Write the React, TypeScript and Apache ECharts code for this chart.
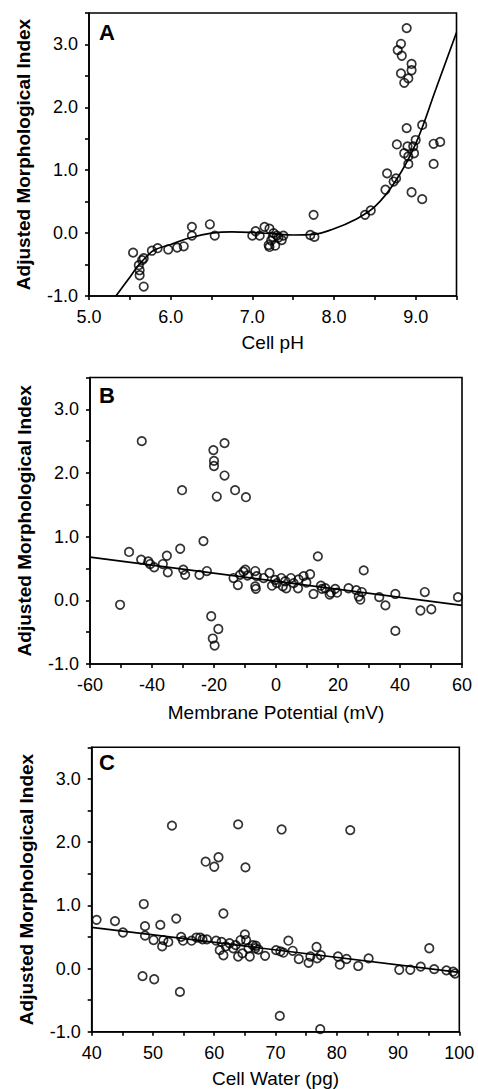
import React, { useEffect, useRef } from "react";
import * as echarts from "echarts";

// Panel A: Cell pH vs Adjusted Morphological Index
const phPoints: number[][] = [
  [5.54, -0.31], [5.61, -0.51], [5.62, -0.59], [5.62, -0.67], [5.65, -0.43], [5.67, -0.4],
  [5.67, -0.85], [5.77, -0.28], [5.84, -0.24], [5.97, -0.26], [6.08, -0.23], [6.16, -0.21],
  [6.26, 0.1], [6.26, -0.04], [6.48, 0.14], [6.54, -0.04],
  [7.0, -0.04], [7.04, 0.03], [7.09, -0.04], [7.15, 0.1], [7.21, 0.07], [7.2, -0.19],
  [7.21, -0.22], [7.23, -0.12], [7.26, 0.0], [7.28, -0.2], [7.3, -0.04], [7.32, -0.07],
  [7.36, -0.11], [7.38, -0.04], [7.25, -0.06],
  [7.71, -0.03], [7.75, 0.29], [7.76, -0.06], [8.38, 0.29], [8.45, 0.36],
  [8.63, 0.69], [8.65, 0.95], [8.73, 0.82], [8.76, 0.87], [8.77, 1.41],
  [8.78, 2.91], [8.82, 3.01], [8.83, 2.82], [8.82, 2.54], [8.86, 2.39], [8.89, 3.26],
  [8.91, 2.46], [8.95, 2.69], [8.95, 2.59], [8.89, 1.67], [8.86, 1.27], [8.9, 1.38],
  [8.91, 1.1], [8.91, 1.22], [8.98, 1.27], [8.97, 1.38], [9.0, 1.48], [8.95, 0.65],
  [9.08, 0.54], [9.08, 1.72], [9.22, 1.42], [9.3, 1.45], [9.22, 1.1],
];
const phCurve: number[][] = [
  [5.33, -1.0], [5.5, -0.7], [5.6, -0.52], [5.7, -0.38], [5.8, -0.27], [6.0, -0.18],
  [6.25, -0.07], [6.5, 0.0], [6.75, 0.02], [7.0, 0.01], [7.25, -0.01], [7.5, -0.03],
  [7.75, -0.02], [8.0, 0.07], [8.25, 0.21], [8.5, 0.42], [8.75, 0.82], [9.0, 1.42],
  [9.25, 2.3], [9.5, 3.19],
];

// Panel B: Membrane Potential (mV)
const mvPoints: number[][] = [
  [-50.3, -0.07], [-47.4, 0.76], [-43.3, 2.5], [-43.5, 0.64], [-41.2, 0.61], [-40.6, 0.57],
  [-39.3, 0.52], [-36.5, 0.57], [-35.2, 0.7], [-34.9, 0.44], [-30.9, 0.81], [-30.3, 1.73],
  [-29.9, 0.48], [-29.3, 0.4], [-24.7, 0.4], [-23.4, 0.93], [-22.3, 0.46], [-20.9, -0.25],
  [-20.2, 2.36], [-20.0, 2.19], [-20.0, 2.11], [-20.4, -0.6], [-19.8, -0.71], [-19.1, 1.63],
  [-18.6, -0.45], [-16.6, 2.47], [-16.6, 1.96], [-13.2, 1.73], [-13.7, 0.35], [-12.3, 0.24],
  [-11.6, 0.4], [-10.5, 0.45], [-9.7, 1.62], [-9.9, 0.48], [-9.2, 0.39], [-6.7, 0.46],
  [-6.7, 0.22], [-6.5, 0.18], [-6.2, 0.38], [-4.0, 0.35], [-2.1, 0.43], [-1.3, 0.23],
  [-0.3, 0.32], [0.3, 0.27], [1.7, 0.35], [2.2, 0.22], [3.0, 0.3], [3.3, 0.19], [4.8, 0.35],
  [5.7, 0.27], [7.1, 0.19], [7.3, 0.33], [8.9, 0.38], [9.8, 0.28], [11.0, 0.41], [13.5, 0.69],
  [12.1, 0.1], [14.5, 0.23], [14.8, 0.18], [15.9, 0.19], [17.3, 0.09], [17.7, 0.12],
  [19.1, 0.18], [19.7, 0.12], [23.4, 0.19], [25.9, 0.16], [26.7, 0.06], [27.2, 0.01],
  [27.7, 0.13], [28.3, 0.47], [33.3, 0.05], [35.3, -0.08], [38.5, 0.1], [38.5, -0.48],
  [46.6, -0.16], [48.0, 0.13], [50.1, -0.14], [58.7, 0.05],
];
const mvLine: number[][] = [[-60, 0.68], [60, -0.08]];

// Panel C: Cell Water (pg)
const waterPoints: number[][] = [
  [40.8, 0.77], [43.8, 0.75], [45.1, 0.57], [48.3, -0.12], [48.5, 1.02], [48.7, 0.67],
  [48.7, 0.52], [50.1, 0.45], [50.2, -0.17], [51.2, 0.69], [51.5, 0.35], [51.7, 0.45],
  [52.5, 0.42], [53.1, 2.26], [53.8, 0.79], [54.4, -0.37], [54.6, 0.5], [54.9, 0.44],
  [56.3, 0.44], [57.1, 0.49], [57.7, 0.49], [58.1, 0.46], [58.6, 1.69], [58.8, 0.46],
  [60.0, 1.61], [60.3, 0.44], [60.7, 1.76], [60.9, 0.29], [61.2, 0.42], [61.5, 0.87],
  [61.5, 0.21], [61.9, 0.35], [62.5, 0.4], [63.1, 0.32], [63.5, 0.37], [63.9, 2.28],
  [63.9, 0.19], [64.3, 0.45], [64.6, 0.24], [65.0, 0.54], [65.1, 1.6], [65.2, 0.45],
  [65.6, 0.32], [65.8, 0.19], [66.3, 0.37], [66.7, 0.32], [66.8, 0.36], [67.2, 0.3],
  [68.3, 0.2], [70.1, 0.29], [70.8, 0.27], [70.7, -0.75], [71.0, 2.2], [71.3, 0.25],
  [72.1, 0.44], [72.8, 0.28], [73.8, 0.15], [75.4, 0.09], [75.7, 0.19], [76.7, 0.34],
  [76.8, 0.16], [77.3, -0.96], [77.4, 0.21], [80.2, 0.19], [80.5, 0.06], [81.6, 0.15],
  [82.2, 2.19], [83.5, 0.04], [85.2, 0.16], [90.2, -0.02], [92.0, -0.02], [93.7, 0.03],
  [95.1, 0.32], [95.9, -0.01], [97.9, -0.03], [99.0, -0.05], [99.3, -0.08],
];
const waterLine: number[][] = [[40, 0.65], [100, -0.06]];

const yTitle = "Adjusted Morphological Index";
const xTitles = ["Cell pH", "Membrane Potential (mV)", "Cell Water (pg)"];
const panelLetters = ["A", "B", "C"];

const FONT = "'Liberation Sans', Arial, Helvetica, sans-serif";

export default function App() {
  const ref = useRef<HTMLDivElement>(null);
  useEffect(() => {
    if (!ref.current) return;
    const chart = echarts.init(ref.current, undefined, { renderer: "svg" });
    const isInt = (v: number) => Math.abs(v - Math.round(v)) < 1e-6;
    const axisCommon = {
      axisLine: { show: true, onZero: false, lineStyle: { color: "#000", width: 1.6 } },
      axisTick: { show: true, inside: false, length: 4, lineStyle: { color: "#000", width: 1.6 } },
      splitLine: { show: false },
    };
    const labelCommon = { color: "#000", fontSize: 18, fontFamily: FONT, interval: 0, hideOverlap: false };
    const grids = [
      { left: 89, top: 13, width: 367.5, height: 283 },
      { left: 90, top: 377.5, width: 372, height: 286.5 },
      { left: 91.7, top: 747.3, width: 367.6, height: 284.4 },
    ].map((g) => ({ ...g, show: true, borderColor: "#000", borderWidth: 1.6, backgroundColor: "transparent" }));

    const xRanges = [
      { min: 5, max: 9.5, interval: 0.5, fmt: (v: number) => (isInt(v) ? v.toFixed(1) : "") },
      { min: -60, max: 60, interval: 10, fmt: (v: number) => (Math.round(v) % 20 === 0 ? String(Math.round(v)) : "") },
      { min: 40, max: 100, interval: 5, fmt: (v: number) => (Math.round(v) % 10 === 0 ? String(Math.round(v)) : "") },
    ];
    const nameGaps = [37, 39, 37];

    const xAxis = xRanges.map((r, i) => ({
      type: "value",
      gridIndex: i,
      min: r.min,
      max: r.max,
      interval: r.interval,
      name: xTitles[i],
      nameLocation: "middle",
      nameGap: nameGaps[i],
      nameTextStyle: { color: "#000", fontSize: 19, fontFamily: FONT },
      ...axisCommon,
      axisLabel: { ...labelCommon, margin: 12, formatter: r.fmt },
    }));
    const yAxis = [0, 1, 2].map((i) => ({
      type: "value",
      gridIndex: i,
      min: -1,
      max: 3.5,
      interval: 0.5,
      name: yTitle,
      nameLocation: "middle",
      nameRotate: 90,
      nameGap: 56,
      nameTextStyle: { color: "#000", fontSize: 19, fontWeight: "bold", fontFamily: FONT },
      ...axisCommon,
      axisLabel: { ...labelCommon, margin: 11, formatter: (v: number) => (isInt(v) ? v.toFixed(1) : "") },
    }));

    const scatterStyle = {
      type: "scatter",
      symbol: "circle",
      symbolSize: 8.5,
      itemStyle: { color: "rgba(0,0,0,0)", borderColor: "#000", borderWidth: 1.7 },
      z: 3,
    };
    const lineStyle = {
      type: "line",
      showSymbol: false,
      symbol: "none",
      lineStyle: { color: "#000", width: 1.7 },
      z: 2,
    };

    const series = [
      { ...scatterStyle, xAxisIndex: 0, yAxisIndex: 0, data: phPoints },
      { ...lineStyle, xAxisIndex: 0, yAxisIndex: 0, smooth: 0.4, data: phCurve },
      { ...scatterStyle, xAxisIndex: 1, yAxisIndex: 1, data: mvPoints },
      { ...lineStyle, xAxisIndex: 1, yAxisIndex: 1, data: mvLine },
      { ...scatterStyle, xAxisIndex: 2, yAxisIndex: 2, data: waterPoints },
      { ...lineStyle, xAxisIndex: 2, yAxisIndex: 2, data: waterLine },
    ];

    const letterTops = [21, 384, 751];
    const graphic = panelLetters.map((t, i) => ({
      type: "text",
      left: 99,
      top: letterTops[i],
      z: 10,
      style: { text: t, fill: "#000", font: `bold 22px ${FONT}` },
    }));

    chart.setOption({
      animation: false,
      backgroundColor: "#fff",
      grid: grids,
      xAxis,
      yAxis,
      series,
      graphic,
    } as any);
    return () => chart.dispose();
  }, []);
  return (
    <div
      ref={ref}
      style={{ position: "fixed", left: 0, top: 0, width: 478, height: 1089, background: "#fff" }}
    />
  );
}
